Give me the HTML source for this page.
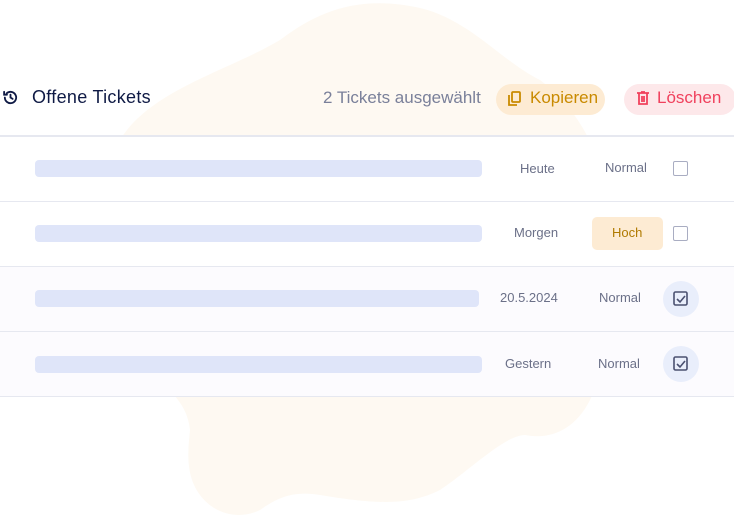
<!DOCTYPE html>
<html><head><meta charset="utf-8"><style>
body{margin:0;width:734px;height:520px;background:#fff;position:relative;overflow:hidden;font-family:"Liberation Sans",sans-serif}
.a{position:absolute}
.row{position:absolute;left:0;width:734px;height:64px;border-bottom:1.5px solid #e6e8f0;background:#fff}
.bar{position:absolute;left:35px;height:17px;background:#dfe5f9;border-radius:4px}
.t{position:absolute;font-size:13px;color:#6b7088}
.cb{position:absolute;width:13px;height:13px;border:1.5px solid #a9adc2;border-radius:2px}
.circ{position:absolute;width:36px;height:36px;border-radius:50%;background:#e9eefb}
</style></head><body>
<svg class="a" style="left:0;top:0" width="734" height="520"><path fill="#fef9f2" d="M120,140 C150,90 230,70 280,40 C320,10 360,-5 420,8 C470,20 500,60 540,80 C580,110 620,170 600,260 C595,330 600,380 590,400 C575,430 550,440 525,435 C505,435 470,470 440,490 C410,505 380,505 320,495 C290,490 275,500 260,510 C240,520 215,515 200,495 C185,475 188,450 190,430 C188,410 178,400 170,390 C140,330 110,220 120,140Z"/></svg>
<svg class="a" style="left:2px;top:89px" width="17" height="17" viewBox="0 0 24 24" fill="none" stroke="#0f1a45" stroke-width="2.6" stroke-linecap="round"><path d="M4 12a8 8 0 1 0 2.5-5.8"/><path d="M3 4v4h4"/><path d="M12 8v4l3 2"/></svg>
<div class="a" style="left:32px;top:87px;font-size:18px;color:#0f1a45;letter-spacing:0.3px">Offene Tickets</div>
<div class="a" style="left:323px;top:88px;font-size:17px;color:#7a809a">2 Tickets ausgewählt</div>
<div class="a" style="left:496px;top:84px;width:109px;height:31px;border-radius:16px;background:#fdebd3"></div>
<svg class="a" style="left:508px;top:91px" width="13" height="15" viewBox="0 0 13 15" fill="none" stroke="#c98a00" stroke-width="1.8"><rect x="4" y="1" width="8" height="10" rx="1"/><path d="M1 4v10h8"/></svg>
<div class="a" style="left:530px;top:88px;font-size:17px;color:#c98a00">Kopieren</div>
<div class="a" style="left:624px;top:84px;width:112px;height:31px;border-radius:16px;background:#fde8ea"></div>
<svg class="a" style="left:637px;top:91px" width="12" height="14" viewBox="0 0 12 14" fill="none" stroke="#f0415d" stroke-width="1.8"><path d="M0 2h12M4 1h4M2 2v11h8V2M5 5v6M7 5v6"/></svg>
<div class="a" style="left:657px;top:88px;font-size:17px;color:#f0415d">Löschen</div>
<div class="a" style="left:0;top:135px;width:734px;height:1.5px;background:#e6e8f0"></div>
<div class="row" style="top:136.5px"></div>
<div class="row" style="top:202px"></div>
<div class="row" style="top:267px;background:#fcfbfe"></div>
<div class="row" style="top:332px;background:#fcfbfe"></div>
<div class="bar" style="top:160px;width:447px"></div>
<div class="bar" style="top:225px;width:447px"></div>
<div class="bar" style="top:290px;width:444px"></div>
<div class="bar" style="top:356px;width:447px"></div>
<div class="t" style="left:520px;top:161px">Heute</div>
<div class="t" style="left:605px;top:160px">Normal</div>
<div class="cb" style="left:673px;top:161px"></div>
<div class="t" style="left:514px;top:225px">Morgen</div>
<div class="a" style="left:592px;top:217px;width:71px;height:33px;border-radius:5px;background:#fdebd3"></div>
<div class="t" style="left:612px;top:225px;color:#b07a00">Hoch</div>
<div class="cb" style="left:673px;top:226px"></div>
<div class="t" style="left:500px;top:290px">20.5.2024</div>
<div class="t" style="left:599px;top:290px">Normal</div>
<div class="circ" style="left:663px;top:281px"></div>
<div class="t" style="left:505px;top:356px">Gestern</div>
<div class="t" style="left:598px;top:356px">Normal</div>
<div class="circ" style="left:663px;top:346px"></div>
<svg class="a" style="left:673px;top:291px" width="16" height="16" viewBox="0 0 16 16" fill="none" stroke="#4a5070" stroke-width="1.6"><rect x="1" y="1" width="13" height="13" rx="1.5"/><path d="M4 8l3 3 5-6"/></svg>
<svg class="a" style="left:673px;top:356px" width="16" height="16" viewBox="0 0 16 16" fill="none" stroke="#4a5070" stroke-width="1.6"><rect x="1" y="1" width="13" height="13" rx="1.5"/><path d="M4 8l3 3 5-6"/></svg>
</body></html>
